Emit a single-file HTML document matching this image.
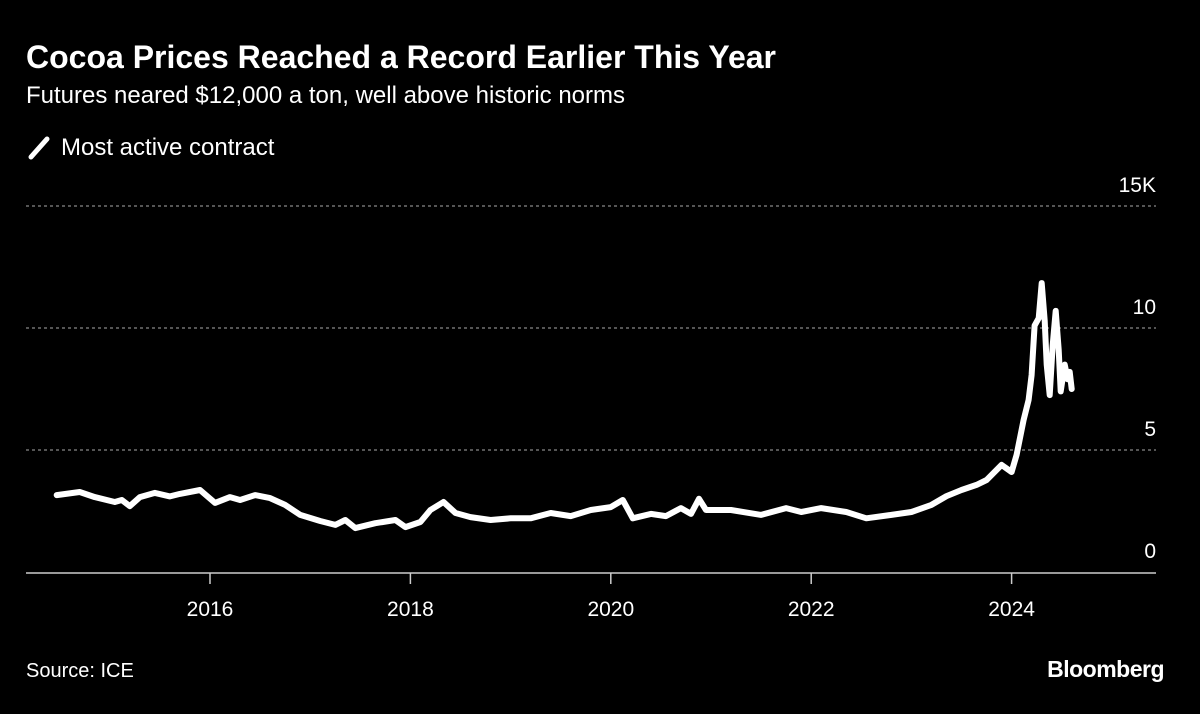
<!DOCTYPE html>
<html><head><meta charset="utf-8"><style>
body{margin:0;background:#000;width:1200px;height:709px;overflow:hidden;font-family:"Liberation Sans",sans-serif;color:#fff}
</style></head><body>
<svg id="chart" width="1200" height="709" xmlns="http://www.w3.org/2000/svg">
<rect width="1200" height="709" fill="#000"/>
<text x="26" y="68" font-size="32" font-weight="bold" fill="#fff">Cocoa Prices Reached a Record Earlier This Year</text>
<text x="26" y="103" font-size="24" fill="#fff">Futures neared $12,000 a ton, well above historic norms</text>
<g>
<line x1="31" y1="157" x2="47" y2="139" stroke="#fff" stroke-width="5" stroke-linecap="round"/>
<text x="61" y="155" font-size="24" fill="#fff">Most active contract</text>
</g>
<g id="grid"></g>
<g id="xaxis"></g>
<path id="series" fill="none" stroke="#fff" stroke-width="6" stroke-linejoin="round" stroke-linecap="round"/>
<text x="26" y="677" font-size="20" fill="#fff">Source: ICE</text>
<text x="1164" y="677" font-size="23" font-weight="bold" fill="#fff" text-anchor="end" letter-spacing="-0.5">Bloomberg</text>
</svg>
<script>
const dates=[2014.47,2014.7,2014.85,2015.05,2015.12,2015.2,2015.3,2015.45,2015.6,2015.7,2015.9,2016.05,2016.2,2016.3,2016.45,2016.6,2016.75,2016.9,2017.1,2017.25,2017.35,2017.45,2017.65,2017.85,2017.95,2018.1,2018.2,2018.33,2018.45,2018.6,2018.8,2019.0,2019.2,2019.4,2019.6,2019.8,2020.0,2020.12,2020.22,2020.4,2020.55,2020.7,2020.8,2020.88,2020.95,2021.2,2021.5,2021.75,2021.9,2022.1,2022.35,2022.55,2022.8,2023.0,2023.2,2023.35,2023.5,2023.65,2023.75,2023.9,2024.0,2024.05,2024.12,2024.17,2024.2,2024.23,2024.27,2024.3,2024.33,2024.35,2024.38,2024.41,2024.44,2024.47,2024.49,2024.53,2024.56,2024.58,2024.6];
const prices=[3.15,3.28,3.07,2.87,2.95,2.7,3.07,3.24,3.1,3.2,3.36,2.83,3.07,2.95,3.15,3.03,2.75,2.34,2.09,1.93,2.13,1.8,2.0,2.13,1.84,2.05,2.54,2.87,2.42,2.25,2.13,2.2,2.2,2.42,2.29,2.54,2.66,2.95,2.2,2.38,2.29,2.62,2.38,3.0,2.54,2.54,2.34,2.62,2.46,2.62,2.46,2.2,2.34,2.46,2.75,3.11,3.36,3.57,3.77,4.39,4.1,4.8,6.23,7.05,8.07,10.1,10.4,11.84,10.3,8.5,7.25,9.3,10.7,9.1,7.4,8.5,7.9,8.2,7.5];
const yTicks=[0,5,10,15];
const yTickLabels=["0","5","10","15K"];
const xTicks=[2016,2018,2020,2022,2024];
const xTickLabels=["2016","2018","2020","2022","2024"];
const ns="http://www.w3.org/2000/svg";
const X=d=>210+(d-2016)*100.2;
const Y=v=>572-v*24.4;
const grid=document.getElementById('grid');
yTicks.forEach((t,i)=>{
  if(t>0){const l=document.createElementNS(ns,'line');
  
  
  l.setAttribute('x1',26);l.setAttribute('x2',1156);l.setAttribute('y1',Y(t));l.setAttribute('y2',Y(t));
  l.setAttribute('stroke','#888');l.setAttribute('stroke-dasharray','3,3');l.setAttribute('stroke-width','1.2');grid.appendChild(l);}
  const tx=document.createElementNS(ns,'text');
  
  
  tx.setAttribute('x',1156);tx.setAttribute('y',Y(t)-14);tx.setAttribute('text-anchor','end');
  tx.setAttribute('font-size','21');tx.setAttribute('fill','#fff');tx.textContent=yTickLabels[i];grid.appendChild(tx);
});
const xa=document.getElementById('xaxis');
const ax=document.createElementNS(ns,'line');


ax.setAttribute('x1',26);ax.setAttribute('x2',1156);ax.setAttribute('y1',573);ax.setAttribute('y2',573);ax.setAttribute('stroke','#ccc');ax.setAttribute('stroke-width','1.5');xa.appendChild(ax);
xTicks.forEach((t,i)=>{
  const l=document.createElementNS(ns,'line');
  
  
  l.setAttribute('x1',X(t));l.setAttribute('x2',X(t));l.setAttribute('y1',573);l.setAttribute('y2',584);l.setAttribute('stroke','#ccc');l.setAttribute('stroke-width','1.5');xa.appendChild(l);
  const tx=document.createElementNS(ns,'text');
  
  
  tx.setAttribute('x',X(t));tx.setAttribute('y',616);tx.setAttribute('text-anchor','middle');tx.setAttribute('font-size','21');tx.setAttribute('fill','#fff');tx.textContent=xTickLabels[i];xa.appendChild(tx);
});
document.getElementById('series').setAttribute('d',dates.map((d,i)=>(i?'L':'M')+X(d).toFixed(1)+','+Y(prices[i]).toFixed(1)).join(''));
</script>
</body></html>
